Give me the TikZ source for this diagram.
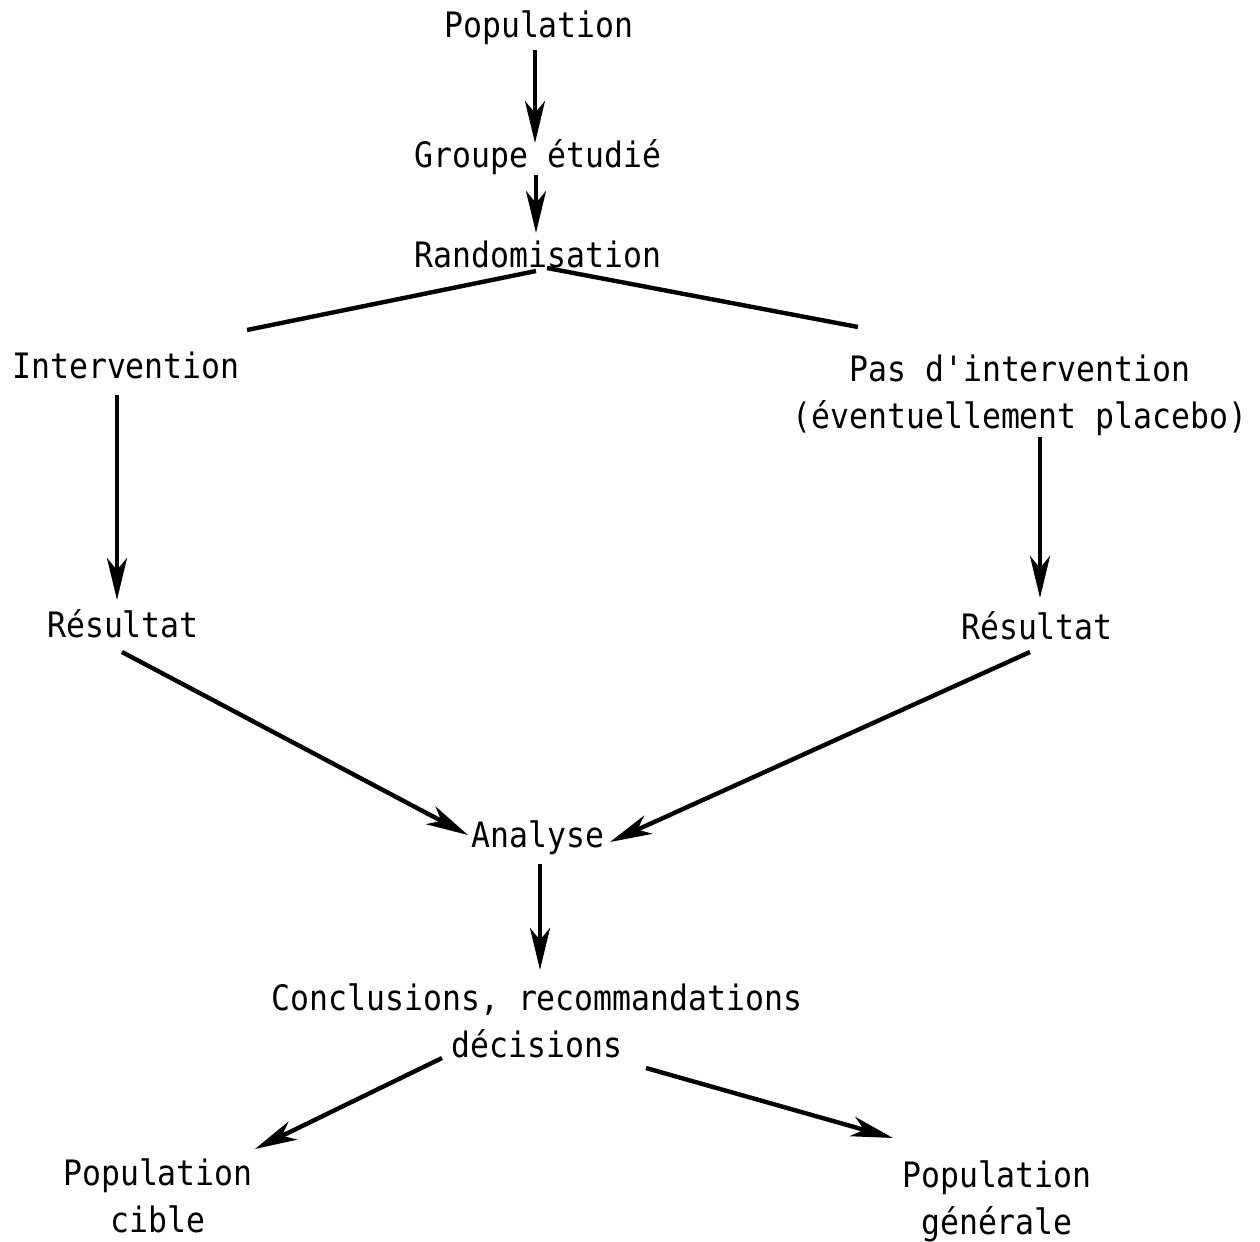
\documentclass[tikz,border=0pt]{standalone}
\usepackage{fontspec}
\setmonofont{DejaVu Sans Mono}[FakeStretch=0.9]
\usetikzlibrary{arrows.meta,calc}
\tikzset{
  lbl/.style={font=\ttfamily\fontsize{17.5}{23.5}\selectfont, inner sep=0pt, anchor=base, align=center},
  arr/.style={line width=2.2pt, -{Stealth[length=21pt,width=10pt,inset=6pt]}},
  ln/.style={line width=2.2pt}
}
\begin{document}
\begin{tikzpicture}[x=0.5pt,y=-0.5pt]
\useasboundingbox (0,0) rectangle (1260,1242);
% labels, placed on the baseline of their last line
\node[lbl] (pop)  at (539,37)   {Population};
\node[lbl] (grp)  at (538,167)  {Groupe étudié};
\node[lbl] (rand) at (538,267)  {Randomisation};
\node[lbl] (int)  at (126,378)  {Intervention};
\node[lbl] (pas)  at (1020,428) {Pas d'intervention\\(éventuellement placebo)};
\node[lbl] (resL) at (123,637)  {Résultat};
\node[lbl] (resR) at (1037,639) {Résultat};
\node[lbl] (ana)  at (538,847)  {Analyse};
\node[lbl] (conc) at (537,1057) {Conclusions, recommandations\\décisions};
\node[lbl] (cib)  at (158,1232) {Population\\cible};
\node[lbl] (gen)  at (997,1234) {Population\\générale};
% connectors
\draw[arr] ($(pop.base)+(-4,13)$) -- ($(grp.base)+(-3,-24)$);
\draw[arr] ($(grp.base)+(-2,8)$) -- ($(rand.base)+(-2,-34)$);
\draw[ln]  ($(rand.base)+(-2,4)$) -- ($(int.base)+(121,-48)$);
\draw[ln]  ($(rand.base)+(9,1)$) -- ($(pas.base)+(-162,-101)$);
\draw[arr] ($(int.base)+(-9,17)$) -- ($(resL.base)+(-6,-37)$);
\draw[arr] ($(pas.base)+(20,9)$) -- ($(resR.base)+(3,-41)$);
\draw[arr] ($(resL.base)+(-1,15)$) -- ($(ana.base)+(-70,-12)$);
\draw[arr] ($(resR.base)+(-7,13)$) -- ($(ana.base)+(72,-5)$);
\draw[arr] ($(ana.base)+(2,17)$) -- ($(conc.base)+(3,-87)$);
\draw[arr] ($(conc.base)+(-95,1)$) -- ($(cib.base)+(97,-83)$);
\draw[arr] ($(conc.base)+(109,11)$) -- ($(gen.base)+(-104,-96)$);
\end{tikzpicture}
\end{document}
